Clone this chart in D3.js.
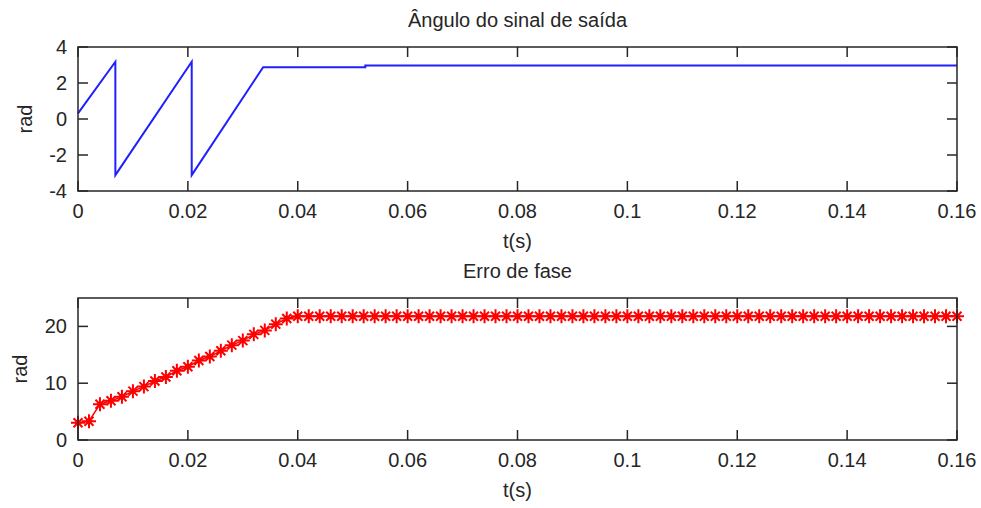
<!DOCTYPE html>
<html>
<head>
<meta charset="utf-8">
<script src="https://cdn.jsdelivr.net/npm/d3@7"></script>
<style>
  body { margin: 0; background: #fff; }
  svg { display: block; font-family: "Liberation Sans", Arial, sans-serif; }
  .axis text { font-size: 20px; fill: #262626; }
  .lbl { font-size: 20px; fill: #262626; }
</style>
</head>
<body>
<svg width="981" height="508"></svg>
<script>
// top plot: output signal angle (breakpoints of the wrapped phase)
const angleT = [0, 0.0068, 0.0068, 0.0207, 0.0207, 0.0337, 0.0523, 0.0523, 0.16];
const angleV = [0.31, 3.18, -3.12, 3.18, -3.12, 2.88, 2.88, 2.97, 2.97];

// bottom plot: phase error, one sample every 2 ms
const errStep = 0.002;
const errV = [
  3.05, 3.3, 6.3, 6.9, 7.6, 8.6, 9.4, 10.4, 11.1, 12.2,
  12.9, 14.0, 14.7, 15.7, 16.7, 17.5, 18.6, 19.3, 20.4, 21.4,
  21.8, 21.8, 21.8, 21.8, 21.8, 21.8, 21.8, 21.8, 21.8, 21.8,
  21.8, 21.8, 21.8, 21.8, 21.8, 21.8, 21.8, 21.8, 21.8, 21.8,
  21.8, 21.8, 21.8, 21.8, 21.8, 21.8, 21.8, 21.8, 21.8, 21.8,
  21.8, 21.8, 21.8, 21.8, 21.8, 21.8, 21.8, 21.8, 21.8, 21.8,
  21.8, 21.8, 21.8, 21.8, 21.8, 21.8, 21.8, 21.8, 21.8, 21.8,
  21.8, 21.8, 21.8, 21.8, 21.8, 21.8, 21.8, 21.8, 21.8, 21.8,
  21.8
];

const xTicks = [0, 0.02, 0.04, 0.06, 0.08, 0.1, 0.12, 0.14, 0.16];
const xTickLabels = ["0", "0.02", "0.04", "0.06", "0.08", "0.1", "0.12", "0.14", "0.16"];
const angleTicks = [-4, -2, 0, 2, 4];
const errTicks = [0, 10, 20];

const svg = d3.select("svg");
const left = 78, right = 957;

const x = d3.scaleLinear().domain([0, 0.16]).range([left, right]);

function panel(top, bottom, yDomain, yTicks, title) {
  const y = d3.scaleLinear().domain(yDomain).range([bottom, top]);
  const g = svg.append("g");

  g.append("rect")
    .attr("x", left).attr("y", top)
    .attr("width", right - left).attr("height", bottom - top)
    .attr("fill", "#fff");

  const tickLen = 10;
  const ax = g.append("g").attr("class", "axis");

  // x ticks, bottom and top, pointing inward
  xTicks.forEach(function (t, i) {
    ax.append("line").attr("x1", x(t)).attr("x2", x(t))
      .attr("y1", bottom).attr("y2", bottom - tickLen)
      .attr("stroke", "#262626").attr("stroke-width", 1.5);
    ax.append("line").attr("x1", x(t)).attr("x2", x(t))
      .attr("y1", top).attr("y2", top + tickLen)
      .attr("stroke", "#262626").attr("stroke-width", 1.5);
    ax.append("text").attr("x", x(t)).attr("y", bottom + 27)
      .attr("text-anchor", "middle").text(xTickLabels[i]);
  });

  yTicks.forEach(function (v) {
    ax.append("line").attr("x1", left).attr("x2", left + tickLen)
      .attr("y1", y(v)).attr("y2", y(v))
      .attr("stroke", "#262626").attr("stroke-width", 1.5);
    ax.append("line").attr("x1", right).attr("x2", right - tickLen)
      .attr("y1", y(v)).attr("y2", y(v))
      .attr("stroke", "#262626").attr("stroke-width", 1.5);
    ax.append("text").attr("x", left - 11).attr("y", y(v) + 7)
      .attr("text-anchor", "end").text(v);
  });

  g.append("text").attr("class", "lbl")
    .attr("x", (left + right) / 2).attr("y", top - 20)
    .attr("text-anchor", "middle").text(title);

  g.append("text").attr("class", "lbl")
    .attr("x", (left + right) / 2).attr("y", bottom + 57)
    .attr("text-anchor", "middle").text("t(s)");

  return { g: g, y: y, top: top, bottom: bottom };
}

const p1 = panel(47, 191, [-4, 4], angleTicks, "\u00C2ngulo do sinal de sa\u00EDda");
const p2 = panel(298, 440, [0, 25], errTicks, "Erro de fase");

p1.g.append("text").attr("class", "lbl")
  .attr("transform", "translate(32," + (p1.top + p1.bottom) / 2 + ") rotate(-90)")
  .attr("text-anchor", "middle").text("rad");
p2.g.append("text").attr("class", "lbl")
  .attr("transform", "translate(27," + (p2.top + p2.bottom) / 2 + ") rotate(-90)")
  .attr("text-anchor", "middle").text("rad");

// blue phase line
p1.g.append("path")
  .datum(d3.zip(angleT, angleV))
  .attr("fill", "none")
  .attr("stroke", "#2020ff")
  .attr("stroke-width", 2)
  .attr("d", d3.line().x(d => x(d[0])).y(d => p1.y(d[1])));

// red error line with star markers
const errData = errV.map((v, i) => [i * errStep, v]);
p2.g.append("path")
  .datum(errData)
  .attr("fill", "none")
  .attr("stroke", "red")
  .attr("stroke-width", 1.5)
  .attr("d", d3.line().x(d => x(d[0])).y(d => p2.y(d[1])));

const star = "M-7,0H7M0,-7V7M-4.5,-4.5L4.5,4.5M-4.5,4.5L4.5,-4.5";
const markers = p2.g.append("g").selectAll("g")
  .data(errData)
  .enter()
  .append("g")
  .attr("transform", d => "translate(" + x(d[0]) + "," + p2.y(d[1]) + ")");
markers.append("path")
  .attr("d", star)
  .attr("fill", "none")
  .attr("stroke", "red")
  .attr("stroke-width", 2);
markers.append("circle")
  .attr("r", 2.5)
  .attr("fill", "red");

// box frames on top
[p1, p2].forEach(function (p) {
  p.g.append("rect")
    .attr("x", left).attr("y", p.top)
    .attr("width", right - left).attr("height", p.bottom - p.top)
    .attr("fill", "none")
    .attr("stroke", "#262626")
    .attr("stroke-width", 1.5);
});
</script>
</body>
</html>
